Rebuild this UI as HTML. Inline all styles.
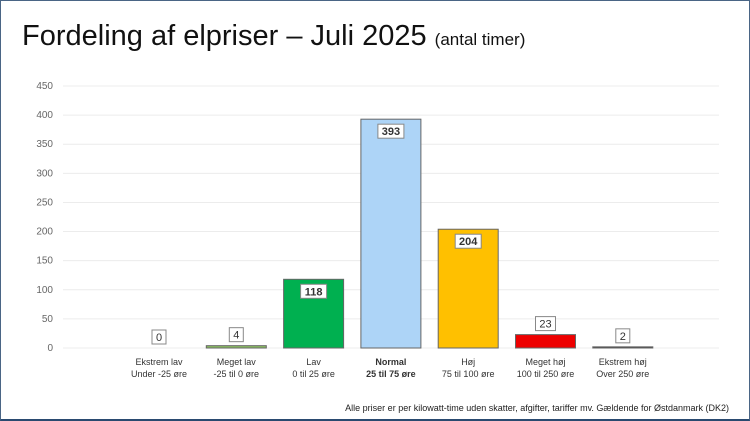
<!DOCTYPE html>
<html><head><meta charset="utf-8"><style>
body{margin:0;background:#fff;font-family:"Liberation Sans",sans-serif}
#f{position:relative;width:748px;height:418px;border:1px solid #4a6585;border-bottom:2px solid #2a4a70;overflow:hidden;background:#fff}
h1{position:absolute;left:21px;top:19px;margin:0;font-weight:normal;font-size:29px;color:#111}
h1 span{font-size:17px}
.foot{position:absolute;right:20px;top:402px;font-size:9px;color:#222}
</style></head><body>
<div id="f">
<h1>Fordeling af elpriser – Juli 2025 <span>(antal timer)</span></h1>
<svg id="c" width="748" height="400" style="position:absolute;left:0;top:0"></svg>
<div class="foot">Alle priser er per kilowatt-time uden skatter, afgifter, tariffer mv. Gældende for Østdanmark (DK2)</div>
</div>
<script>
const categories=["Ekstrem lav","Meget lav","Lav","Normal","Høj","Meget høj","Ekstrem høj"];
const subLabels=["Under -25 øre","-25 til 0 øre","0 til 25 øre","25 til 75 øre","75 til 100 øre","100 til 250 øre","Over 250 øre"];
const values=[0,4,118,393,204,23,2];
const colors=["#999","#8bc060","#00b050","#add4f7","#ffc000","#ee0000","#222"];
const yTicks=[0,50,100,150,200,250,300,350,400,450];
const NS="http://www.w3.org/2000/svg",svg=document.getElementById('c');
const y0=347,yTop=85,yMax=450;
const y=v=>y0-(v/yMax)*(y0-yTop);
const x=i=>158+i*77.3;
function el(t,a,txt){const e=document.createElementNS(NS,t);for(const k in a)e.setAttribute(k,a[k]);if(txt!==undefined)e.textContent=txt;svg.appendChild(e);return e;}
yTicks.forEach(t=>{
 const g=el('line',{x1:62,x2:718,y1:y(t),y2:y(t),stroke:'#ececec','stroke-width':1});
 
 
 const l=el('text',{x:52,y:y(t)+3,'text-anchor':'end','font-size':10,fill:'#666'},t);
 
 
});
values.forEach((v,i)=>{
 const cx=x(i),bt=y(v);
 if(v>0){const r=el('rect',{x:cx-30,y:bt,width:60,height:y0-bt,fill:colors[i],stroke:'#666','stroke-width':1});
 
 }
 const inside=v>50, ly=inside?bt+5:bt-18;
 const w=String(v).length*6+8;
 const b=el('rect',{x:cx-w/2,y:ly,width:w,height:14,fill:'#fff',stroke:'#888','stroke-width':1});
 
 
 const t=el('text',{x:cx,y:ly+11,'text-anchor':'middle','font-size':11,fill:'#333','font-weight':inside?'bold':'normal'},v);
 
 
 const bold=i===3?'bold':'normal';
 const c1=el('text',{x:cx,y:364,'text-anchor':'middle','font-size':9,fill:'#333','font-weight':bold},categories[i]);
 
 
 const c2=el('text',{x:cx,y:376,'text-anchor':'middle','font-size':9,fill:'#333','font-weight':bold},subLabels[i]);
 
 
});
</script>
</body></html>
